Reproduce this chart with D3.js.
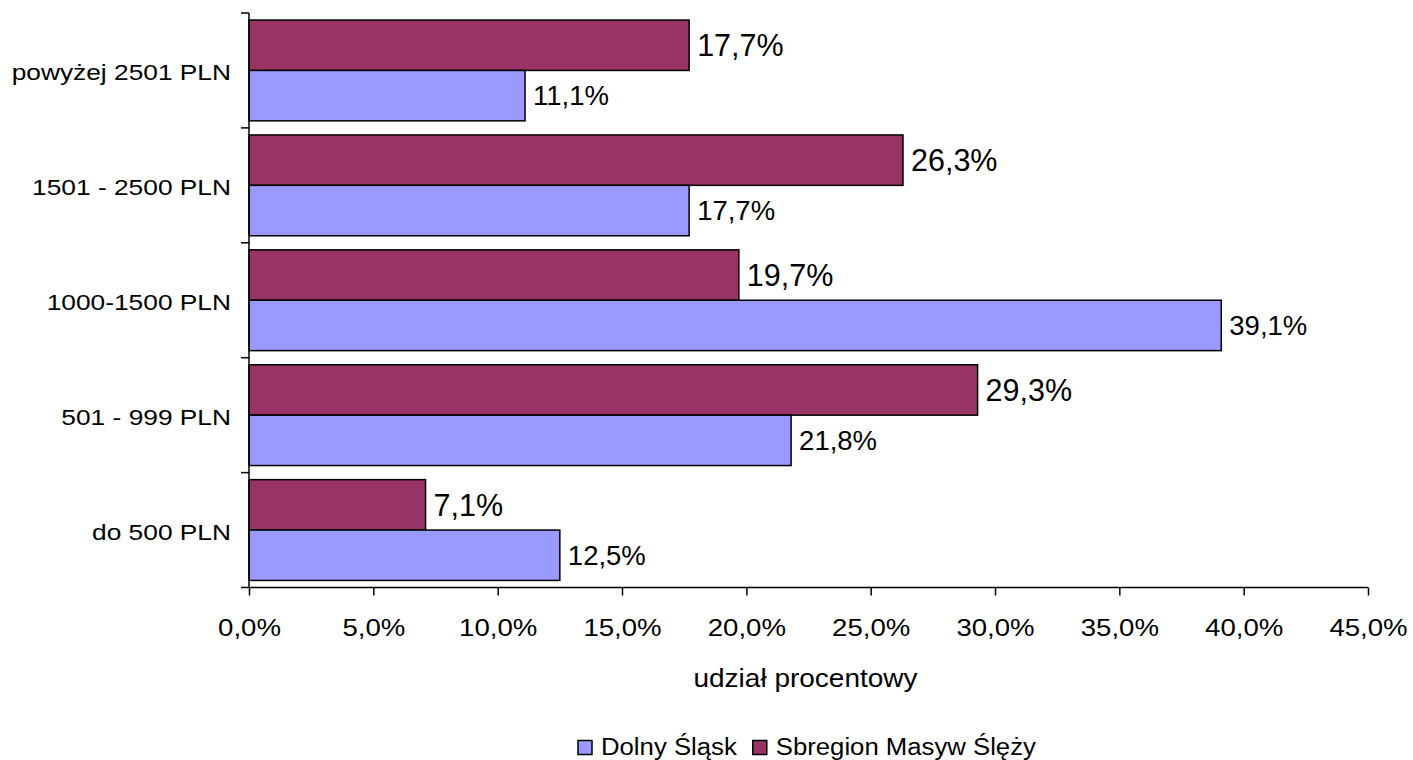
<!DOCTYPE html>
<html><head><meta charset="utf-8">
<script src="https://cdn.jsdelivr.net/npm/d3@7"></script>
<style>body{margin:0;background:#fff;} text{font-family:"Liberation Sans",Arial,sans-serif;}</style>
</head><body>
<svg id="c" width="1413" height="760"></svg>
<script>
const categories = ["powyżej 2501 PLN", "1501 - 2500 PLN", "1000-1500 PLN", "501 - 999 PLN", "do 500 PLN"];
const seriesNames = ["Sbregion Masyw Ślęży", "Dolny Śląsk"];
const masywValues = [17.7, 26.3, 19.7, 29.3, 7.1];
const dolnyValues = [11.1, 17.7, 39.1, 21.8, 12.5];
const xTicks = [0, 5, 10, 15, 20, 25, 30, 35, 40, 45];
const colors = {"Sbregion Masyw Ślęży": "#993366", "Dolny Śląsk": "#9999FF"};

(function(){
const svg = d3.select("#c");
const mL = 249, mR = 1368, mT = 13, mB = 587.5;
const fmt = v => v.toFixed(1).replace(".", ",") + "%";

function addText(parent, x, y, str, size, sx, anchor) {
  return parent.append("text")
    .attr("transform", `translate(${x},${y}) scale(${sx},1)`)
    .attr("text-anchor", anchor || "start")
    .attr("font-size", size).attr("fill", "#000").text(str);
}

const x = d3.scaleLinear().domain([0, 45]).range([mL, mR]);
const y = d3.scaleBand().domain(categories).range([mT, mB]).paddingInner(0).paddingOuter(0);
const inner = d3.scaleBand().domain(seriesNames).range([0, y.bandwidth()]).paddingOuter(0.14).paddingInner(0);

const data = categories.map((c, i) => ({c, vals: [
  {s: seriesNames[0], v: masywValues[i]},
  {s: seriesNames[1], v: dolnyValues[i]}
]}));

const g = svg.append("g");
data.forEach(d => {
  d.vals.forEach(e => {
    const y0 = y(d.c) + inner(e.s);
    g.append("rect").attr("x", x(0)).attr("y", y0)
      .attr("width", x(e.v) - x(0)).attr("height", inner.bandwidth())
      .attr("fill", colors[e.s]).attr("stroke", "#000").attr("stroke-width", 1.5);
    const big = e.s === seriesNames[0];
    const cy = y0 + inner.bandwidth() / 2;
    addText(g, x(e.v) + 8, cy + (big ? 11 : 9.5), fmt(e.v), big ? 30.5 : 27.5, 1, "start");
  });
});

const yAxis = svg.append("g").attr("transform", `translate(${mL},0)`);
yAxis.append("line").attr("x1", 0).attr("x2", 0).attr("y1", mT).attr("y2", mB).attr("stroke", "#000").attr("stroke-width", 1.5);
const yTickPos = categories.map(c => y(c)).concat([mB]);
yTickPos.forEach(p => yAxis.append("line").attr("x1", -8).attr("x2", 0).attr("y1", p).attr("y2", p).attr("stroke", "#000").attr("stroke-width", 1.5));
categories.forEach(c => addText(yAxis, -18, y(c) + y.bandwidth() / 2 + 9.5, c, 22.5, 1.17, "end"));

const xAxis = svg.append("g").attr("transform", `translate(0,${mB})`)
  .call(d3.axisBottom(x).tickValues(xTicks).tickSize(8).tickFormat(fmt));
xAxis.select(".domain").attr("stroke", "#000").attr("stroke-width", 1.5).attr("d", `M${mL},0H${mR}`);
xAxis.selectAll(".tick line").attr("stroke", "#000").attr("stroke-width", 1.5);
xAxis.selectAll(".tick text").attr("font-size", 24).attr("font-family", "Liberation Sans, Arial, sans-serif")
  .attr("fill", "#000").attr("y", 0).attr("dy", 0).attr("transform", "translate(0,48.5) scale(1.15,1)");

addText(svg, (mL + mR) / 2 - 3, 687, "udział procentowy", 25, 1.12, "middle");

const leg = svg.append("g");
const legItems = [seriesNames[1], seriesNames[0]];
let lx = 578;
legItems.forEach(s => {
  leg.append("rect").attr("x", lx).attr("y", 740.5).attr("width", 14).attr("height", 14)
    .attr("fill", colors[s]).attr("stroke", "#000").attr("stroke-width", 1.5);
  const t = addText(leg, lx + 23, 755, s, 24.5, 1.05, "start");
  lx += 23 + t.node().getComputedTextLength() * 1.05 + 16;
});
})();
</script>
</body></html>
